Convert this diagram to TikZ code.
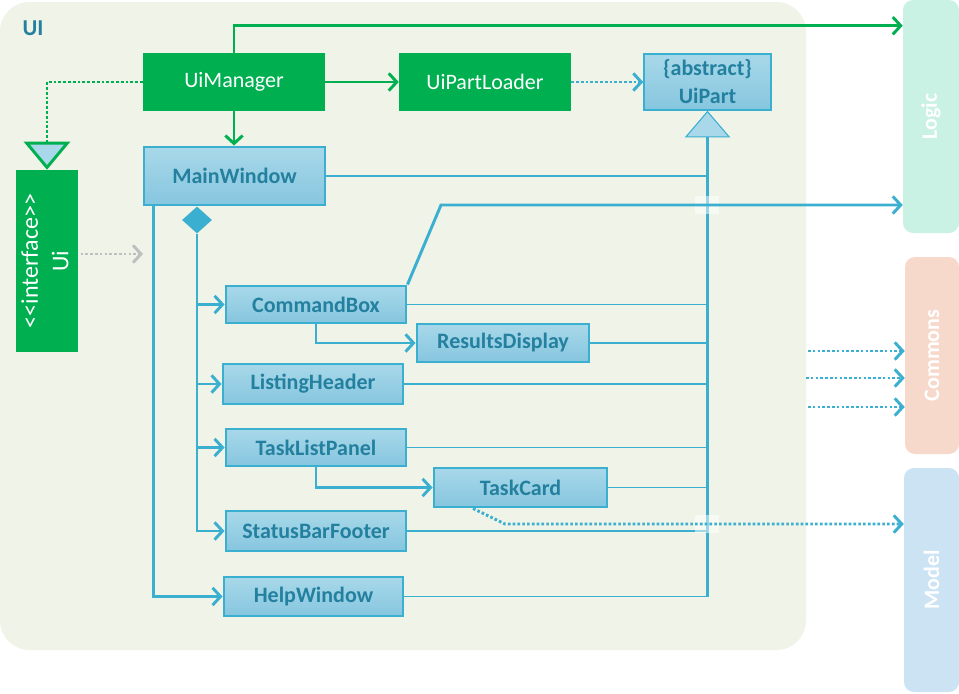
\documentclass[tikz,border=0pt]{standalone}
\usepackage{fontspec}
\setmainfont{Carlito}
\usepackage{graphicx}
\usetikzlibrary{positioning,shapes.geometric,arrows.meta}

\definecolor{uigreen}{HTML}{00B050}
\definecolor{uiline}{HTML}{3AAFD0}
\definecolor{uitext}{HTML}{23809E}
\definecolor{boxtop}{HTML}{A8D8E9}
\definecolor{boxbot}{HTML}{86C6DF}
\definecolor{uibg}{HTML}{F0F3E8}
\definecolor{logicfill}{HTML}{C9F2E4}
\definecolor{commonsfill}{HTML}{F7D9CC}
\definecolor{modelfill}{HTML}{CCE3F4}
\definecolor{depgrey}{HTML}{BFBFBF}

\tikzset{
  comp/.style={draw=uiline, line width=2.2pt, top color=boxtop, bottom color=boxbot,
    text=uitext, font=\fontsize{16.5}{21}\selectfont\bfseries, inner sep=0pt},
  ctrl/.style={fill=uigreen, text=white, font=\fontsize{16.5}{22}\selectfont,
    inner sep=0pt, minimum height=43.5pt},
  layer/.style={rounded corners=7.5pt, text=white, inner sep=0pt,
    font=\fontsize{16.5}{20}\selectfont\bfseries},
  assoc/.style={draw=uiline, line width=2.2pt, -{Straight Barb[length=6pt,width=13pt]}},
  greenarr/.style={draw=uigreen, line width=2.2pt, -{Straight Barb[length=6pt,width=13pt]}},
  bluedot/.style={draw=uiline, line width=2.2pt, dash pattern=on 2pt off 1.6pt,
    -{Straight Barb[length=6pt,width=13pt]}},
  greendot/.style={draw=uigreen, line width=2.2pt, dash pattern=on 2pt off 1.6pt,
    -{Triangle[length=21pt,width=34.5pt,fill=boxtop]}},
  greydot/.style={draw=depgrey, line width=2.2pt, dash pattern=on 2pt off 1.6pt,
    -{Straight Barb[length=6pt,width=13pt]}},
  genthin/.style={draw=uiline, line width=1pt},
  gen/.style={draw=uiline, line width=1.6pt,
    -{Triangle[length=20pt,width=34pt,fill=boxtop,line width=0.8pt]}},
}

\begin{document}
\begin{tikzpicture}[x=0.75pt, y=-0.75pt]
\useasboundingbox (0,0) rectangle (959,693);

% UI package
\node[fill=uibg, rounded corners=22pt, minimum width=604.5pt, minimum height=486pt] (uibox) at (403,326) {};
\node[text=uitext, font=\fontsize{17}{20}\selectfont\bfseries] (uilabel) at (33,28) {UI};

% other components
\node[layer, fill=logicfill, minimum width=42pt, minimum height=174.75pt] (logic) at (931,116.5) {\rotatebox{90}{Logic}};
\node[layer, fill=commonsfill, minimum width=40.5pt, minimum height=147.75pt] (commons) at (932,355.5) {\rotatebox{90}{Commons}};
\node[layer, fill=modelfill, minimum width=41.25pt, minimum height=168pt] (model) at (931.5,580) {\rotatebox{90}{Model}};

% managers
\node[ctrl, minimum width=136.5pt] (uimgr) at (234,82) {UiManager};
\node[ctrl, minimum width=129pt] (loader) at (485,82) {UiPartLoader};
\node[comp, line width=1.1pt, minimum width=95.25pt, minimum height=42pt, align=center] (uipart) at (707.5,82) {\{abstract\}\\UiPart};
\node[ctrl, minimum width=45pt, minimum height=136.5pt, font=\fontsize{18}{23}\selectfont] (ui) at (47,261)
  {\rotatebox{90}{\begin{tabular}{@{}c@{}}<{}<interface>{}>\\Ui\end{tabular}}};

% ui parts
\node[comp, minimum width=135.75pt, minimum height=43.5pt] (mainwin) at (234.5,176) {MainWindow};
\node[comp, minimum width=135pt, minimum height=27.75pt] (cmd) at (316,304.5) {CommandBox};
\node[comp, minimum width=129pt, minimum height=28.5pt] (results) at (503,343) {ResultsDisplay};
\node[comp, minimum width=135pt, minimum height=30pt] (listing) at (313,384) {ListingHeader};
\node[comp, minimum width=135pt, minimum height=27.75pt] (tasklist) at (316,447.5) {TaskListPanel};
\node[comp, minimum width=129.75pt, minimum height=29.25pt] (card) at (520.5,487.5) {TaskCard};
\node[comp, minimum width=135pt, minimum height=30pt] (status) at (316,531) {StatusBarFooter};
\node[comp, minimum width=134.25pt, minimum height=29.25pt] (helpwin) at (313.5,596.5) {HelpWindow};
\node[diamond, fill=uiline, inner sep=0pt, minimum width=22.5pt, minimum height=20.25pt] (agg) at (197,220) {};

% inheritance from UiPart
\foreach \n in {mainwin,cmd,results,listing,tasklist,card,status,helpwin}
  \draw[genthin] (\n.east) -- (\n.east -| uipart.south);
\draw[gen] (helpwin.east -| uipart.south) -- (uipart.south);

% manager links
\draw[greenarr] (uimgr.north) |- ([yshift=-19.5pt]logic.north west);
\draw[greenarr] (uimgr.east) -- (loader.west);
\draw[greenarr] (uimgr.south) -- (uimgr.south |- mainwin.north);
\draw[bluedot] (loader.east) -- (uipart.west);
\draw[greendot] (uimgr.west) -| (ui.north);
\coordinate (uiend) at (143,254);
\draw[greydot] ([xshift=2pt]ui.east |- uiend) -- (uiend);

% composition
\foreach \n in {cmd,listing,tasklist,status}
  \draw[assoc] (agg.south) |- (\n.west);
\draw[assoc] ([xshift=8.25pt]mainwin.south west) |- (helpwin.west);
\draw[assoc] (cmd.south) |- (results.west);
\draw[assoc] (tasklist.south) |- (card.west);

% outgoing dependencies
\fill[white, opacity=0.5] (695,196) rectangle (719,214);
\coordinate (cmdbend) at (441,205);
\draw[assoc] (cmd.north east) -- (cmdbend) -- (cmdbend -| logic.west);
\fill[white, opacity=0.5] (695,515) rectangle (719,533);
\coordinate (cardbend) at (505,524);
\draw[bluedot] ([xshift=-35.6pt]card.south) -- (cardbend) -- (cardbend -| model.west);
\foreach \i/\xx/\yy in {1/808/351, 2/806/378, 3/808/407} {
  \coordinate (dep\i) at (\xx,\yy);
  \draw[bluedot] (dep\i) -- (dep\i -| commons.west);
}

\end{tikzpicture}
\end{document}
